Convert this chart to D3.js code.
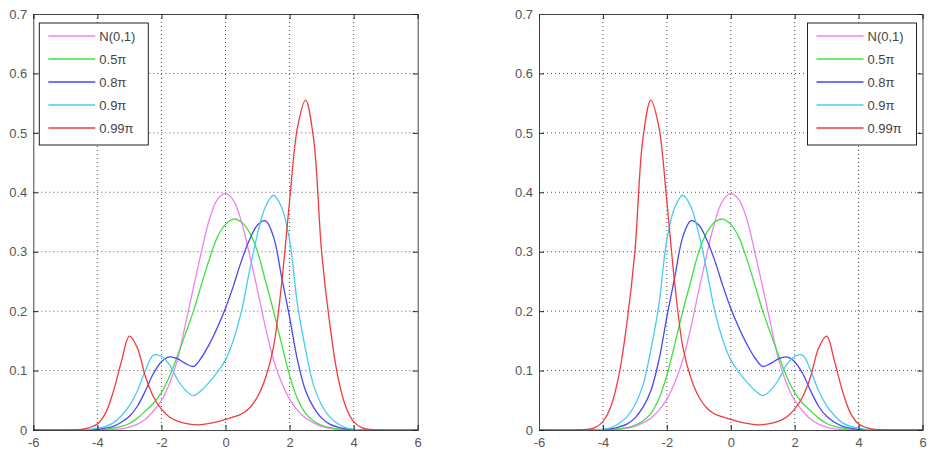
<!DOCTYPE html>
<html>
<head>
<meta charset="utf-8">
<script src="https://cdn.jsdelivr.net/npm/d3@7"></script>
<style>
  body { margin: 0; background: #fff; }
  text { font-family: "Liberation Sans", Arial, sans-serif; }
</style>
</head>
<body>
<svg class="chart"></svg>
<script>
// sample grid shared by all curves
const xs = [-6, -4.5, -4.25, -4, -3.75, -3.5, -3.25, -3, -2.75, -2.5, -2.25, -2, -1.75, -1.5, -1.25, -1,
  -0.75, -0.5, -0.25, 0, 0.25, 0.5, 0.75, 1, 1.25, 1.5, 1.75, 2, 2.25, 2.5, 2.75, 3, 3.25, 3.5, 3.75,
  4, 4.25, 4.5, 6];

const normal = [0, 0, 0, 0, 0, 0.001, 0.002, 0.005, 0.01, 0.018, 0.032, 0.05, 0.078, 0.118, 0.178, 0.24,
  0.3, 0.355, 0.388, 0.398, 0.386, 0.35, 0.295, 0.235, 0.172, 0.118, 0.08, 0.052, 0.033, 0.02, 0.012,
  0.006, 0.003, 0.001, 0, 0, 0, 0, 0];
const half = [0, 0, 0, 0, 0.001, 0.003, 0.006, 0.011, 0.02, 0.032, 0.045, 0.063, 0.09, 0.125, 0.162, 0.2,
  0.245, 0.288, 0.325, 0.346, 0.355, 0.35, 0.332, 0.3, 0.25, 0.2, 0.145, 0.092, 0.052, 0.028, 0.015,
  0.008, 0.004, 0.002, 0.001, 0, 0, 0, 0];
const p08 = [0, 0, 0, 0.001, 0.003, 0.006, 0.013, 0.023, 0.04, 0.066, 0.095, 0.115, 0.123, 0.12, 0.112, 0.107,
  0.122, 0.145, 0.173, 0.205, 0.243, 0.285, 0.32, 0.345, 0.352, 0.325, 0.258, 0.19, 0.117, 0.066, 0.038,
  0.02, 0.01, 0.005, 0.002, 0.001, 0, 0, 0];
const p09 = [0, 0, 0.001, 0.003, 0.006, 0.012, 0.024, 0.041, 0.066, 0.1, 0.126, 0.124, 0.11, 0.085, 0.067, 0.058,
  0.067, 0.081, 0.098, 0.118, 0.152, 0.2, 0.268, 0.33, 0.376, 0.395, 0.375, 0.32, 0.21, 0.135, 0.075,
  0.042, 0.022, 0.011, 0.004, 0.001, 0, 0, 0];
const p099 = [0, 0.001, 0.004, 0.01, 0.028, 0.065, 0.115, 0.158, 0.138, 0.09, 0.056, 0.035, 0.022, 0.015, 0.011, 0.009,
  0.009, 0.011, 0.014, 0.018, 0.022, 0.027, 0.037, 0.056, 0.088, 0.14, 0.245, 0.385, 0.51, 0.555, 0.49,
  0.3, 0.18, 0.092, 0.04, 0.014, 0.004, 0.001, 0];

const names = ["N(0,1)", "0.5π", "0.8π", "0.9π", "0.99π"];
const colors = ["#f080f0", "#40e040", "#4848ee", "#48ccf0", "#f03c3c"];
const series = [normal, half, p08, p09, p099];

const xTicks = [-6, -4, -2, 0, 2, 4, 6];
const yTicks = [0, 0.1, 0.2, 0.3, 0.4, 0.5, 0.6, 0.7];

const svg = d3.select(".chart").attr("width", 944).attr("height", 462);

function panel(left, right, flip, legendRight) {
  const top = 14, bottom = 430;
  const x = d3.scaleLinear().domain([-6, 6]).range([left, right]);
  const y = d3.scaleLinear().domain([0, 0.7]).range([bottom, top]);
  const g = svg.append("g");

  // dotted grid
  g.selectAll(".vg").data(xTicks.slice(1, -1)).enter().append("line")
    .attr("x1", d => x(d)).attr("x2", d => x(d)).attr("y1", top).attr("y2", bottom)
    .attr("stroke", "#555").attr("stroke-dasharray", "1,3");
  g.selectAll(".hg").data(yTicks.slice(1, -1)).enter().append("line")
    .attr("y1", d => y(d)).attr("y2", d => y(d)).attr("x1", left).attr("x2", right)
    .attr("stroke", "#555").attr("stroke-dasharray", "1,3");

  // right panel is the mirror image: x -> -x
  const lxs = flip ? xs.map(v => -v) : xs;
  const line = d3.line()
    .x((d, i) => x(lxs[i]))
    .y(d => y(Math.max(0, d)))
    .curve(d3.curveCatmullRom.alpha(0.5));

  series.forEach((s, k) => {
    g.append("path")
      .datum(s)
      .attr("fill", "none")
      .attr("stroke", colors[k])
      .attr("stroke-width", 1.3)
      .attr("d", line);
  });

  const fmt = d => d === 0 ? "0" : d3.format(".1f")(d);
  const xfmt = d => String(d);

  g.append("g").attr("transform", `translate(0,${bottom})`)
    .call(d3.axisBottom(x).tickValues(xTicks).tickFormat(xfmt).tickSize(-5).tickPadding(8));
  g.append("g").attr("transform", `translate(${left},0)`)
    .call(d3.axisLeft(y).tickValues(yTicks).tickFormat(fmt).tickSize(-5).tickPadding(6));
  g.append("g").attr("transform", `translate(0,${top})`)
    .call(d3.axisTop(x).tickValues(xTicks).tickFormat("").tickSize(-5));
  g.append("g").attr("transform", `translate(${right},0)`)
    .call(d3.axisRight(y).tickValues(yTicks).tickFormat("").tickSize(-5));

  g.selectAll(".domain").attr("stroke", "#444");
  g.selectAll(".tick line").attr("stroke", "#222");
  g.selectAll(".tick text").attr("fill", "#555").style("font-size", "13px")
    .style("font-family", "'Liberation Sans', Arial, sans-serif");

  // legend
  const lw = 109, lh = 122;
  const lx0 = legendRight ? right - 6 - lw : left + 6;
  const lg = g.append("g").attr("transform", `translate(${lx0},23)`);
  lg.append("rect").attr("width", lw).attr("height", lh)
    .attr("fill", "#fff").attr("stroke", "#222");
  names.forEach((n, k) => {
    const yy = 13 + k * 23;
    lg.append("line").attr("x1", 9).attr("x2", 56).attr("y1", yy).attr("y2", yy)
      .attr("stroke", colors[k]).attr("stroke-width", 1.3);
    lg.append("text").attr("x", 60).attr("y", yy + 5).text(n)
      .attr("fill", "#444").style("font-size", "13px");
  });
}

panel(33.3, 417.7, false, false);
panel(539, 922.5, true, true);
</script>
</body>
</html>
